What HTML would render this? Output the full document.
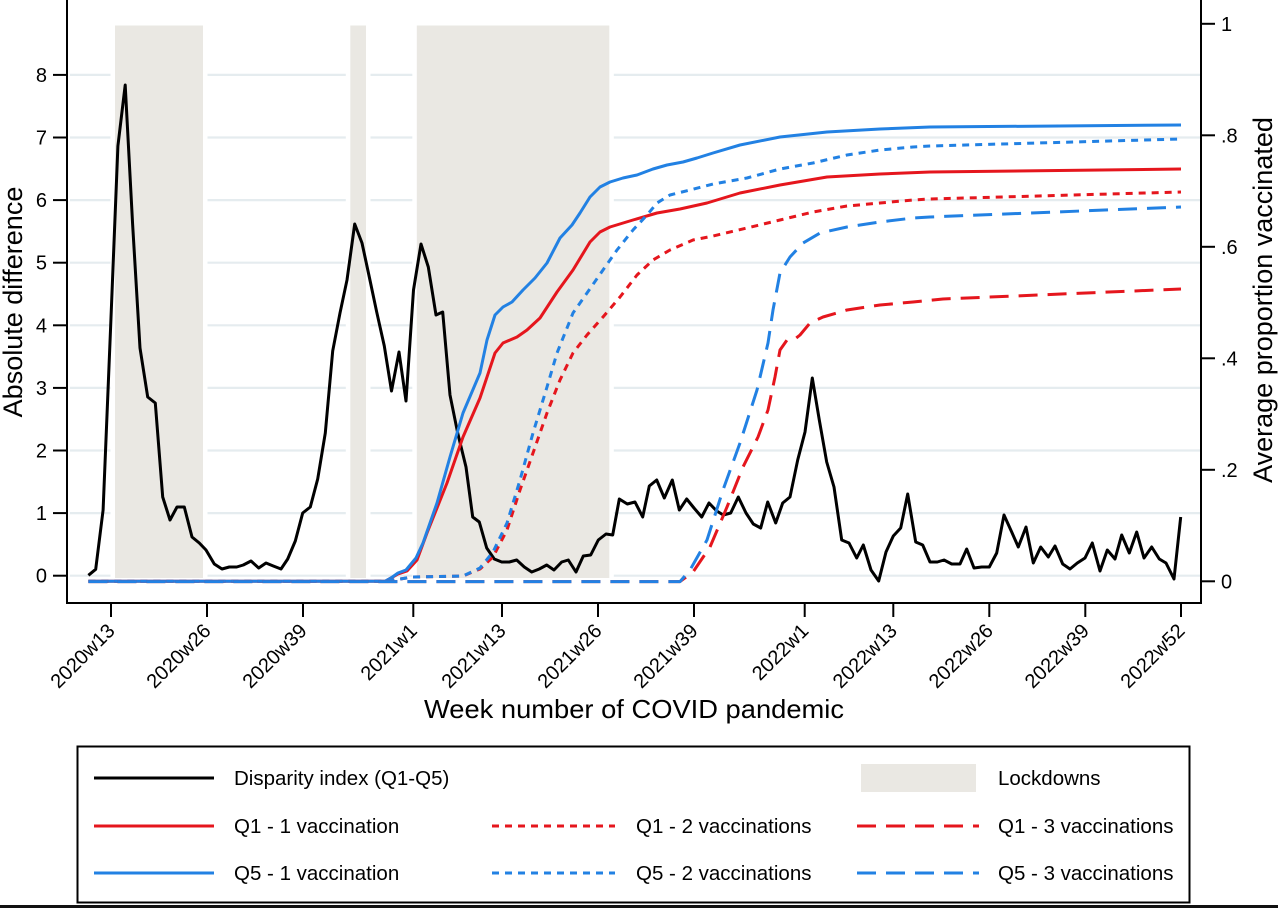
<!DOCTYPE html>
<html>
<head>
<meta charset="utf-8">
<style>
  html,body{margin:0;padding:0;background:#fff;}
  svg{display:block;}
  text{font-family:"Liberation Sans", Arial, sans-serif;fill:#000;}
</style>
</head>
<body>
<svg width="1278" height="908" viewBox="0 0 1278 908" xmlns="http://www.w3.org/2000/svg">
  <rect x="0" y="0" width="1278" height="908" fill="#fff"/>

  <!-- gridlines (left axis values 0..8) -->
  <g stroke="#e5ecef" stroke-width="2.2">
    <line x1="70" y1="575.7" x2="1200" y2="575.7"/>
    <line x1="70" y1="513.1" x2="1200" y2="513.1"/>
    <line x1="70" y1="450.5" x2="1200" y2="450.5"/>
    <line x1="70" y1="387.9" x2="1200" y2="387.9"/>
    <line x1="70" y1="325.3" x2="1200" y2="325.3"/>
    <line x1="70" y1="262.7" x2="1200" y2="262.7"/>
    <line x1="70" y1="200.1" x2="1200" y2="200.1"/>
    <line x1="70" y1="137.5" x2="1200" y2="137.5"/>
    <line x1="70" y1="74.9" x2="1200" y2="74.9"/>
  </g>

  <!-- lockdown shading: white halo then fill -->
  <g fill="#fff">
    <rect x="110.5" y="21" width="97" height="561.5"/>
    <rect x="345.8" y="21" width="24.7" height="561.5"/>
    <rect x="412.3" y="21" width="201.5" height="561.5"/>
  </g>
  <g fill="#eae8e3">
    <rect x="115" y="25.5" width="88" height="552.5"/>
    <rect x="350.3" y="25.5" width="15.7" height="552.5"/>
    <rect x="416.8" y="25.5" width="192.5" height="552.5"/>
  </g>

  <!-- series -->
  <g fill="none" stroke-width="3" stroke-linejoin="round" stroke-linecap="butt">
    <!-- black disparity index -->
    <polyline stroke="#000" points="88.4,575.3 95.7,569.3 103.1,510 110.5,330 117.9,146 125.2,85 132.6,224 140,348 147.7,397 155.3,403 162.7,497 170,520 177,507 184.3,507 192,537 199.3,543 206,550 214.3,564 222,569 229.3,567 236.7,567 243.3,565 251,561 258.7,568 266,563 273.3,566 281,569 287.7,559 295.3,541 302.7,513 310.3,507 317.7,479 325.3,433 332.7,351 340,313 347,280 354.7,224 362,243 369.3,277 376.7,312 384.3,346 391.5,391 399,352 406,401 413.5,290 421,244 428.3,267 436,315 442.7,312 450,395 457.7,433 466,467 472.7,517 479.3,522 486.7,548 494.3,559 501.7,562 509.3,562 516.7,560 524.3,567 531.7,572 539.3,569 546.7,565 554,570 561.7,562 568.3,560 576,572 583.3,556 590.7,555 598.3,540 606,534 612.7,535 619.3,499 627.3,504 635,502 642.7,517 649.3,486 656.7,480 664.3,498 672.3,480 679.3,510 686.7,499 694,508 701.7,517 709,503 716.7,511 723.3,515 730.7,513 738.3,497 746,513 753.3,524 760.7,528 767.7,502 775.7,523 782.7,503 790,497 797.7,460 805,432 812.3,378 819.3,420 826.7,462 834,487 841.7,540 849,543 856.7,558 863.3,545 871,570 878.7,581 886,552 893.3,536 900.7,528 907.7,494 915.7,542 922.7,545 930,562 937.3,562 944,560 951.7,564 960,564 966.7,549 974,568 981.7,567 989.3,567 996.7,553 1004,515 1011.7,532 1018.3,547 1026,527 1033.3,563 1040.7,547 1048.3,557 1055,546 1062.7,564 1070,569 1077.3,563 1085,558 1092.3,543 1100,571 1107.3,550 1115,559 1121.7,535 1129.3,553 1136.7,532 1144,558 1151.7,547 1159.3,559 1166,563 1174,579 1180.7,517"/>

    <!-- Q1 - 1 vaccination (red solid) -->
    <polyline stroke="#e5161d" points="88.4,581.3 385,581.3 391,578 398,574 407,571 417,560 427,533 447,483 463,437 480,398 495,353 503,343 517,337 527,330 540,318 557,292 573,270 590,242 600,232 610,227 633,220 657,213 680,209 707,203 740,193 780,185 827,177 880,174 930,172 1181,169"/>
    <!-- Q5 - 1 vaccination (blue solid) -->
    <polyline stroke="#2281e3" points="88.4,581.3 385,581.3 391,578 398,573 406,570 416,558 423,543 437,503 450,457 463,413 480,373 487,340 495,315 503,307 512,302 523,290 535,278 547,263 560,238 572,225 580,213 590,197 600,187 610,182 623,178 637,175 653,169 667,165 683,162 697,158 713,153 740,145 780,137 827,132 880,129 930,127 1181,125"/>

    <!-- Q1 - 2 vaccinations (red short dash) -->
    <polyline stroke="#e5161d" stroke-dasharray="7 6" points="88.4,581.3 385,581.3 413,577 463,576 480,569 493,557 507,530 520,490 533,453 547,413 560,380 573,353 587,335 603,317 620,297 637,275 653,260 670,250 693,240 713,236 747,228 780,220 813,212 847,206 880,203 913,200 930,199 1181,192"/>
    <!-- Q5 - 2 vaccinations (blue short dash) -->
    <polyline stroke="#2281e3" stroke-dasharray="7 6" points="88.4,581.3 385,581.3 413,577 463,576 480,568 493,552 507,523 520,480 533,433 547,387 557,353 565,333 573,313 587,293 603,270 617,250 633,230 647,215 657,203 670,195 690,190 713,184 747,178 780,169 813,163 847,155 880,150 913,147 930,146 1181,139"/>

    <!-- Q1 - 3 vaccinations (red long dash) -->
    <polyline stroke="#e5161d" stroke-dasharray="19 10" points="88.4,581.6 680,581.6 693,572 710,547 727,507 743,467 758,437 768,410 775,377 780,350 787,340 795,339 800,335 810,323 823,317 847,310 880,305 913,302 943,299 1181,289"/>
    <!-- Q5 - 3 vaccinations (blue long dash) -->
    <polyline stroke="#2281e3" stroke-dasharray="19 10" points="88.4,581.6 680,581.6 690,570 707,540 723,490 740,443 757,390 768,343 773,310 780,273 790,257 803,243 820,233 847,227 880,222 913,218 930,217 1181,207"/>
  </g>

  <!-- axes -->
  <g stroke="#000" stroke-width="2">
    <line x1="67" y1="0" x2="67" y2="604"/>
    <line x1="1201" y1="0" x2="1201" y2="604"/>
    <line x1="66" y1="603" x2="1202" y2="603"/>
    <!-- left ticks -->
    <line x1="53" y1="575.7" x2="67" y2="575.7"/>
    <line x1="53" y1="513.1" x2="67" y2="513.1"/>
    <line x1="53" y1="450.5" x2="67" y2="450.5"/>
    <line x1="53" y1="387.9" x2="67" y2="387.9"/>
    <line x1="53" y1="325.3" x2="67" y2="325.3"/>
    <line x1="53" y1="262.7" x2="67" y2="262.7"/>
    <line x1="53" y1="200.1" x2="67" y2="200.1"/>
    <line x1="53" y1="137.5" x2="67" y2="137.5"/>
    <line x1="53" y1="74.9" x2="67" y2="74.9"/>
    <!-- right ticks -->
    <line x1="1201" y1="581.3" x2="1215" y2="581.3"/>
    <line x1="1201" y1="469.8" x2="1215" y2="469.8"/>
    <line x1="1201" y1="358.3" x2="1215" y2="358.3"/>
    <line x1="1201" y1="246.8" x2="1215" y2="246.8"/>
    <line x1="1201" y1="135.3" x2="1215" y2="135.3"/>
    <line x1="1201" y1="23.8" x2="1215" y2="23.8"/>
    <!-- x ticks -->
    <line x1="111" y1="603" x2="111" y2="617"/>
    <line x1="207" y1="603" x2="207" y2="617"/>
    <line x1="303" y1="603" x2="303" y2="617"/>
    <line x1="413.3" y1="603" x2="413.3" y2="617"/>
    <line x1="502" y1="603" x2="502" y2="617"/>
    <line x1="598" y1="603" x2="598" y2="617"/>
    <line x1="694" y1="603" x2="694" y2="617"/>
    <line x1="804.7" y1="603" x2="804.7" y2="617"/>
    <line x1="893.3" y1="603" x2="893.3" y2="617"/>
    <line x1="989.3" y1="603" x2="989.3" y2="617"/>
    <line x1="1085.3" y1="603" x2="1085.3" y2="617"/>
    <line x1="1181" y1="603" x2="1181" y2="617"/>
  </g>

  <!-- left tick labels -->
  <g font-size="20" text-anchor="end">
    <text x="47" y="582.7">0</text>
    <text x="47" y="520.1">1</text>
    <text x="47" y="457.5">2</text>
    <text x="47" y="394.9">3</text>
    <text x="47" y="332.3">4</text>
    <text x="47" y="269.7">5</text>
    <text x="47" y="207.1">6</text>
    <text x="47" y="144.5">7</text>
    <text x="47" y="81.9">8</text>
  </g>

  <!-- right tick labels -->
  <g font-size="20" text-anchor="start">
    <text x="1221" y="588.3">0</text>
    <text x="1221" y="476.8">.2</text>
    <text x="1221" y="365.3">.4</text>
    <text x="1221" y="253.8">.6</text>
    <text x="1221" y="142.3">.8</text>
    <text x="1221" y="30.8">1</text>
  </g>

  <!-- x tick labels (rotated 45) -->
  <g font-size="20" text-anchor="end">
    <text transform="translate(116,632) rotate(-45)">2020w13</text>
    <text transform="translate(212,632) rotate(-45)">2020w26</text>
    <text transform="translate(308,632) rotate(-45)">2020w39</text>
    <text transform="translate(418.3,632) rotate(-45)">2021w1</text>
    <text transform="translate(507,632) rotate(-45)">2021w13</text>
    <text transform="translate(603,632) rotate(-45)">2021w26</text>
    <text transform="translate(699,632) rotate(-45)">2021w39</text>
    <text transform="translate(809.7,632) rotate(-45)">2022w1</text>
    <text transform="translate(898.3,632) rotate(-45)">2022w13</text>
    <text transform="translate(994.3,632) rotate(-45)">2022w26</text>
    <text transform="translate(1090.3,632) rotate(-45)">2022w39</text>
    <text transform="translate(1186,632) rotate(-45)">2022w52</text>
  </g>

  <!-- axis titles -->
  <text x="634" y="718" font-size="26" text-anchor="middle" textLength="420" lengthAdjust="spacingAndGlyphs">Week number of COVID pandemic</text>
  <text transform="translate(22,302) rotate(-90)" font-size="27" text-anchor="middle">Absolute difference</text>
  <text transform="translate(1272,300) rotate(-90)" font-size="27" text-anchor="middle">Average proportion vaccinated</text>

  <!-- legend -->
  <rect x="77.5" y="746.5" width="1112" height="156" fill="#fff" stroke="#000" stroke-width="2"/>
  <g fill="none" stroke-width="3">
    <line x1="94" y1="778" x2="214" y2="778" stroke="#000"/>
    <line x1="94" y1="826" x2="214" y2="826" stroke="#e5161d"/>
    <line x1="94" y1="873" x2="214" y2="873" stroke="#2281e3"/>
    <line x1="492" y1="826" x2="615" y2="826" stroke="#e5161d" stroke-dasharray="7 6"/>
    <line x1="492" y1="873" x2="615" y2="873" stroke="#2281e3" stroke-dasharray="7 6"/>
    <line x1="857" y1="826" x2="979" y2="826" stroke="#e5161d" stroke-dasharray="19 10"/>
    <line x1="857" y1="873" x2="979" y2="873" stroke="#2281e3" stroke-dasharray="19 10"/>
  </g>
  <rect x="861" y="764" width="115" height="28" fill="#eae8e3"/>
  <g font-size="20.5">
    <text x="234" y="785">Disparity index (Q1-Q5)</text>
    <text x="998" y="785">Lockdowns</text>
    <text x="234" y="833">Q1 - 1 vaccination</text>
    <text x="636" y="833">Q1 - 2 vaccinations</text>
    <text x="998" y="833">Q1 - 3 vaccinations</text>
    <text x="234" y="880">Q5 - 1 vaccination</text>
    <text x="636" y="880">Q5 - 2 vaccinations</text>
    <text x="998" y="880">Q5 - 3 vaccinations</text>
  </g>

  <!-- bottom border strip -->
  <rect x="0" y="905" width="1278" height="3" fill="#111"/>
</svg>
</body>
</html>
